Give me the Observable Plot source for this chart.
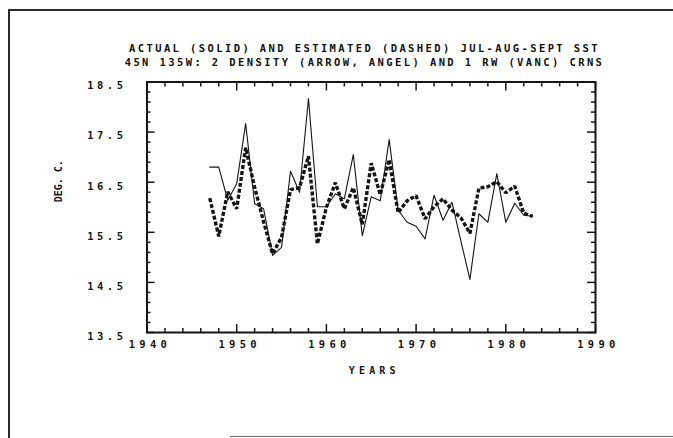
<!DOCTYPE html>
<html>
<head>
<meta charset="utf-8">
<script src="https://cdn.jsdelivr.net/npm/d3@7"></script>
<script src="https://cdn.jsdelivr.net/npm/@observablehq/plot@0.6"></script>
<style>
  body { margin: 0; background: #fff; }
  #page { position: relative; width: 673px; height: 438px; overflow: hidden; background: #fff;
          font-family: "DejaVu Sans Mono", monospace; color: #111; }
  #frameLeft { position: absolute; left: 7.5px; top: 8.5px; width: 2.5px; height: 440px; background: #2a2a2a; }
  #frameTop { position: absolute; left: 7.5px; top: 8.5px; width: 670px; height: 2.5px; background: #2a2a2a; }
  #frameBottom { position: absolute; left: 230px; top: 435.5px; width: 450px; height: 1.5px; background: #666; }
  #title { height: 70px; box-sizing: border-box; padding-top: 41px; padding-left: 56px;
           font-weight: bold; font-size: 10.5px; letter-spacing: 2.4px; line-height: 14px;
           text-align: center; white-space: nowrap; }
  #chart svg { display: block; }
  #chart text { font-weight: bold; }
  #chart g[aria-label="x-axis tick label"] text { letter-spacing: 4.3px; }
  #chart g[aria-label="y-axis tick label"] text { letter-spacing: 3.5px; }
</style>
</head>
<body>
<div id="page">
  <div id="title">
    <div>ACTUAL (SOLID) AND ESTIMATED (DASHED) JUL-AUG-SEPT SST</div>
    <div>45N 135W: 2 DENSITY (ARROW, ANGEL) AND 1 RW (VANC) CRNS</div>
  </div>
  <div id="chart"></div>
  <div id="frameLeft"></div>
  <div id="frameTop"></div>
  <div id="frameBottom"></div>
</div>
<script>
const years = [1947,1948,1949,1950,1951,1952,1953,1954,1955,1956,1957,1958,1959,1960,1961,1962,1963,1964,1965,
               1966,1967,1968,1969,1970,1971,1972,1973,1974,1975,1976,1977,1978,1979,1980,1981,1982,1983];
const actual = [16.80,16.80,16.14,16.47,17.67,16.07,15.97,15.04,15.20,16.72,16.30,18.17,16.01,16.01,16.27,16.17,17.05,15.43,16.21,
                16.13,17.35,15.94,15.70,15.62,15.37,16.24,15.74,16.10,15.32,14.56,15.87,15.70,16.67,15.70,16.08,15.84,15.82];
const estimated = [16.18,15.42,16.31,15.97,17.19,16.40,15.71,15.07,15.40,16.35,16.39,17.02,15.27,16.00,16.49,15.97,16.39,15.66,16.88,
                   16.25,16.95,15.89,16.13,16.23,15.77,16.01,16.17,15.94,15.79,15.48,16.38,16.41,16.51,16.29,16.42,15.88,15.82];
const xMajor = [1940,1950,1960,1970,1980,1990];
const xMinor = [1942,1944,1946,1948,1952,1954,1956,1958,1962,1964,1966,1968,1972,1974,1976,1978,1982,1984,1986,1988];
const yMajor = [13.5,14.5,15.5,16.5,17.5,18.5];
const yMinor = [13.7,13.9,14.1,14.3,14.7,14.9,15.1,15.3,15.7,15.9,16.1,16.3,16.7,16.9,17.1,17.3,17.7,17.9,18.1,18.3];
const xTitle = "YEARS";
const yTitle = "DEG. C.";

const data = years.map((year, i) => ({year, actual: actual[i], estimated: estimated[i]}));
const ink = "#151515";

const chart = Plot.plot({
  width: 673,
  height: 368,
  marginLeft: 146.5,
  marginRight: 78,
  marginTop: 11.5,
  marginBottom: 106,
  style: {fontFamily: "'DejaVu Sans Mono', monospace", fontSize: "10px", color: ink, background: "#fff"},
  x: {domain: [1940, 1990], axis: null},
  y: {domain: [13.5, 18.5], axis: null},
  marks: [
    // tick marks (inward) on all four sides
    Plot.axisX({ticks: xMajor, anchor: "bottom", tickSize: -8, text: null, label: null, stroke: ink, strokeWidth: 1.5}),
    Plot.axisX({ticks: xMinor, anchor: "bottom", tickSize: -4, text: null, label: null, stroke: ink, strokeWidth: 1.5}),
    Plot.axisX({ticks: xMajor, anchor: "top", tickSize: -8, text: null, label: null, stroke: ink, strokeWidth: 1.5}),
    Plot.axisX({ticks: xMinor, anchor: "top", tickSize: -4, text: null, label: null, stroke: ink, strokeWidth: 1.5}),
    Plot.axisY({ticks: yMajor, anchor: "left", tickSize: -8, text: null, label: null, stroke: ink, strokeWidth: 1.5}),
    Plot.axisY({ticks: yMinor, anchor: "left", tickSize: -4, text: null, label: null, stroke: ink, strokeWidth: 1.5}),
    Plot.axisY({ticks: yMajor, anchor: "right", tickSize: -9, text: null, label: null, stroke: ink, strokeWidth: 1.5}),
    Plot.axisY({ticks: yMinor, anchor: "right", tickSize: -5, text: null, label: null, stroke: ink, strokeWidth: 1.5}),
    // tick labels
    Plot.axisX({ticks: xMajor, anchor: "bottom", tickSize: 0, tickPadding: 8, tickFormat: d => String(d), label: null,
                fill: ink, fontSize: 10.5, dx: 3}),
    Plot.axisY({ticks: yMajor, anchor: "left", tickSize: 0, tickPadding: 20.5, tickFormat: d => d.toFixed(1), label: null,
                fill: ink, fontSize: 10.5, dy: 4}),
    // axis titles
    Plot.text([xTitle], {frameAnchor: "bottom", text: d => d, dy: 41, dx: 3, fill: ink, fontSize: 10, fontWeight: "bold"}),
    Plot.text([yTitle], {frameAnchor: "left", text: d => d, rotate: -90, dx: -88, dy: -5, fill: ink, fontSize: 10, fontWeight: "bold"}),
    // series
    Plot.line(data, {x: "year", y: "estimated", stroke: ink, strokeWidth: 3.4, strokeDasharray: "4,2",
                     strokeLinecap: "butt", strokeLinejoin: "miter"}),
    Plot.line(data, {x: "year", y: "actual", stroke: ink, strokeWidth: 1.1}),
    Plot.frame({stroke: ink, strokeWidth: 2})
  ]
});
document.getElementById("chart").appendChild(chart);
// letter spacing for the x-axis title
d3.select(chart).selectAll("text").filter(function() { return this.textContent === xTitle; })
  .style("letter-spacing", "4.2px");
</script>
</body>
</html>
